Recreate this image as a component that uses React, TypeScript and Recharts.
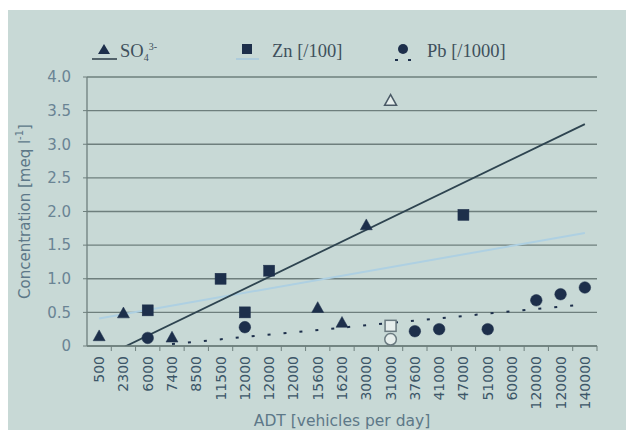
import React from 'react';
import { ComposedChart, Line, XAxis, YAxis, CartesianGrid, Label } from 'recharts';

const labels = ['500','2300','6000','7400','8500','11500','12000','12000','12000','15600','16200','30000','31000','37600','41000','47000','51000','60000','120000','120000','140000'];

const so4 = [0.15,0.49,null,0.13,null,null,null,null,null,0.57,0.35,1.8,null,null,null,null,null,null,null,null,null];
const so4Open = [null,null,null,null,null,null,null,null,null,null,null,null,3.65,null,null,null,null,null,null,null,null];
const zn = [null,null,0.53,null,null,1.0,0.5,1.12,null,null,null,null,null,null,null,1.95,null,null,null,null,null];
const znOpen = [null,null,null,null,null,null,null,null,null,null,null,null,0.3,null,null,null,null,null,null,null,null];
const pb = [null,null,0.12,null,null,null,0.28,null,null,null,null,null,null,0.22,0.25,null,0.25,null,0.68,0.77,0.87];
const pbOpen = [null,null,null,null,null,null,null,null,null,null,null,null,0.1,null,null,null,null,null,null,null,null];

const so4Trend = [null,-0.02,null,null,null,null,null,null,null,null,null,null,null,null,null,null,null,null,null,null,3.3];
const znTrend = [0.41,null,null,null,null,null,null,null,null,null,null,null,null,null,null,null,null,null,null,null,1.68];
const pbTrend = [null,null,null,0.03,null,null,null,null,null,null,null,null,null,null,null,null,null,null,null,null,0.62];

const yTicks = [0,0.5,1,1.5,2,2.5,3,3.5,4];

const data = labels.map((label, i) => ({
  i,
  label,
  so4: so4[i], so4Open: so4Open[i],
  zn: zn[i], znOpen: znOpen[i],
  pb: pb[i], pbOpen: pbOpen[i],
  so4Trend: so4Trend[i], znTrend: znTrend[i], pbTrend: pbTrend[i],
}));

const W = 626;
const H = 430;
const XH = 84;
const M = { top: 77, right: 29, bottom: 0, left: 0 };
const YW = 87;
const BAND = (W - M.right - YW) / labels.length;

const BG = '#c8d9d6';
const GRID = '#6e7f7d';
const MARK = '#1d2f4b';
const OPEN_FILL = '#e6eeec';

const Tri = (filled: boolean) => (p: any) => {
  const { cx, cy, index } = p;
  if (cx == null || cy == null || p.value == null) return <g key={`t${index}`} />;
  const s = 6;
  return (
    <polygon key={`t${index}`} points={`${cx},${cy - s} ${cx - s},${cy + s * 0.8} ${cx + s},${cy + s * 0.8}`}
      fill={filled ? MARK : OPEN_FILL} stroke={filled ? MARK : '#4a5a66'} strokeWidth={filled ? 0.5 : 1.5} />
  );
};
const Sq = (filled: boolean) => (p: any) => {
  const { cx, cy, index } = p;
  if (cx == null || cy == null || p.value == null) return <g key={`s${index}`} />;
  const s = 5.5;
  return (
    <rect key={`s${index}`} x={cx - s} y={cy - s} width={2 * s} height={2 * s}
      fill={filled ? MARK : OPEN_FILL} stroke={filled ? MARK : '#6a7a80'} strokeWidth={filled ? 0.5 : 1.5} />
  );
};
const Circ = (filled: boolean) => (p: any) => {
  const { cx, cy, index } = p;
  if (cx == null || cy == null || p.value == null) return <g key={`c${index}`} />;
  return (
    <circle key={`c${index}`} cx={cx} cy={cy} r={5.8}
      fill={filled ? MARK : OPEN_FILL} stroke={filled ? MARK : '#6a7a80'} strokeWidth={filled ? 0.5 : 1.5} />
  );
};

const XTick = (p: any) => {
  const { x, payload } = p;
  const axisY = H - XH;
  const bx = x + BAND / 2;
  return (
    <g>
      <line x1={bx} x2={bx} y1={axisY} y2={axisY + 5} stroke={GRID} strokeWidth={1} />
      <text transform={`translate(${x},${axisY + 10}) rotate(-90)`} textAnchor="end" dominantBaseline="central"
        fontFamily="DejaVu Sans, Verdana, sans-serif" fontSize={14} fill="#3c5668">
        {labels[payload.value]}
      </text>
    </g>
  );
};

const LegendRow = () => (
  <div style={{ position: 'absolute', left: 0, top: 0, width: W, height: 70, pointerEvents: 'none' }}>
    <svg width={W} height={70} style={{ position: 'absolute', left: 0, top: 0 }}>
      <polygon points="104,44 98,54 110,54" fill={MARK} />
      <line x1={92} x2={117} y1={59} y2={59} stroke="#34454f" strokeWidth={1.6} />
      <rect x={242} y={44} width={10} height={10} fill={MARK} />
      <line x1={236} x2={259} y1={59} y2={59} stroke="#a7c9dc" strokeWidth={1.6} />
      <circle cx={403} cy={49} r={5} fill={MARK} />
      <line x1={395} x2={398} y1={60} y2={60} stroke={MARK} strokeWidth={2} />
      <line x1={408} x2={411} y1={60} y2={60} stroke={MARK} strokeWidth={2} />
      <text x={120} y={57} fontFamily="Liberation Serif, Times New Roman, serif" fontSize={18.5} fill="#3f505c">
        SO<tspan fontSize={10} dy={4}>4</tspan><tspan fontSize={10} dy={-11}>3-</tspan>
      </text>
      <text x={272} y={57} fontFamily="Liberation Serif, Times New Roman, serif" fontSize={18.5} fill="#3f505c">Zn [/100]</text>
      <text x={427} y={57} fontFamily="Liberation Serif, Times New Roman, serif" fontSize={18.5} fill="#3f505c">Pb [/1000]</text>
    </svg>
  </div>
);

export default function App() {
  return (
    <div style={{ position: 'absolute', left: 0, top: 0, width: W, height: H, background: '#ffffff', overflow: 'hidden' }}>
      <div style={{ position: 'absolute', left: 8, top: 10, width: W - 8, height: H - 10, background: BG }} />
      <div style={{ position: 'absolute', left: 0, top: 0 }}>
        <ComposedChart width={W} height={H} data={data} margin={M}>
          <CartesianGrid vertical={false} stroke={GRID} strokeWidth={1.3} />
          <XAxis dataKey="i" type="category" interval={0} tick={<XTick />} tickLine={false}
            padding={{ left: BAND / 2, right: BAND / 2 }}
            axisLine={{ stroke: GRID, strokeWidth: 1.3 }} height={XH}>
            <Label value="ADT [vehicles per day]" position="insideBottom" offset={4}
              style={{ fontFamily: 'DejaVu Sans, Verdana, sans-serif', fontSize: 15.5, fill: '#5d7888' }} />
          </XAxis>
          <YAxis width={YW} domain={[0, 4]} ticks={yTicks} interval={0} allowDataOverflow
            tickFormatter={(v: number) => (v === 0 ? '0' : v.toFixed(1))}
            tick={{ fontFamily: 'DejaVu Sans, Verdana, sans-serif', fontSize: 15, fill: '#6a8494' }}
            tickSize={4} tickMargin={12} tickLine={{ stroke: GRID }} axisLine={{ stroke: GRID, strokeWidth: 1.3 }}>
            <Label angle={-90} position="insideLeft" offset={18}
              content={(props: any) => {
                const vb = props.viewBox || {};
                const cx = 25;
                const cy = (vb.y ?? 77) + (vb.height ?? 269) / 2;
                return (
                  <text transform={`translate(${cx},${cy}) rotate(-90)`} textAnchor="middle" dominantBaseline="central"
                    fontFamily="DejaVu Sans, Verdana, sans-serif" fontSize={15} fill="#5d7888">
                    Concentration [meq l<tspan fontSize={10} dy={-6}>-1</tspan><tspan dy={6}>]</tspan>
                  </text>
                );
              }} />
          </YAxis>
          <YAxis yAxisId="r" orientation="right" width={0} domain={[0, 4]} tick={false} tickLine={false}
            axisLine={{ stroke: GRID, strokeWidth: 1.3 }} />
          <Line dataKey="znTrend" stroke="#aed0e2" strokeWidth={2} dot={false} activeDot={false} connectNulls isAnimationActive={false} />
          <Line dataKey="so4Trend" stroke="#2e4450" strokeWidth={1.8} dot={false} activeDot={false} connectNulls isAnimationActive={false} />
          <Line dataKey="pbTrend" stroke={MARK} strokeWidth={2} strokeDasharray="3 13" dot={false} activeDot={false} connectNulls isAnimationActive={false} />
          <Line dataKey="so4" stroke="none" dot={Tri(true)} activeDot={false} isAnimationActive={false} />
          <Line dataKey="so4Open" stroke="none" dot={Tri(false)} activeDot={false} isAnimationActive={false} />
          <Line dataKey="zn" stroke="none" dot={Sq(true)} activeDot={false} isAnimationActive={false} />
          <Line dataKey="znOpen" stroke="none" dot={Sq(false)} activeDot={false} isAnimationActive={false} />
          <Line dataKey="pb" stroke="none" dot={Circ(true)} activeDot={false} isAnimationActive={false} />
          <Line dataKey="pbOpen" stroke="none" dot={Circ(false)} activeDot={false} isAnimationActive={false} />
        </ComposedChart>
      </div>
      <LegendRow />
    </div>
  );
}
